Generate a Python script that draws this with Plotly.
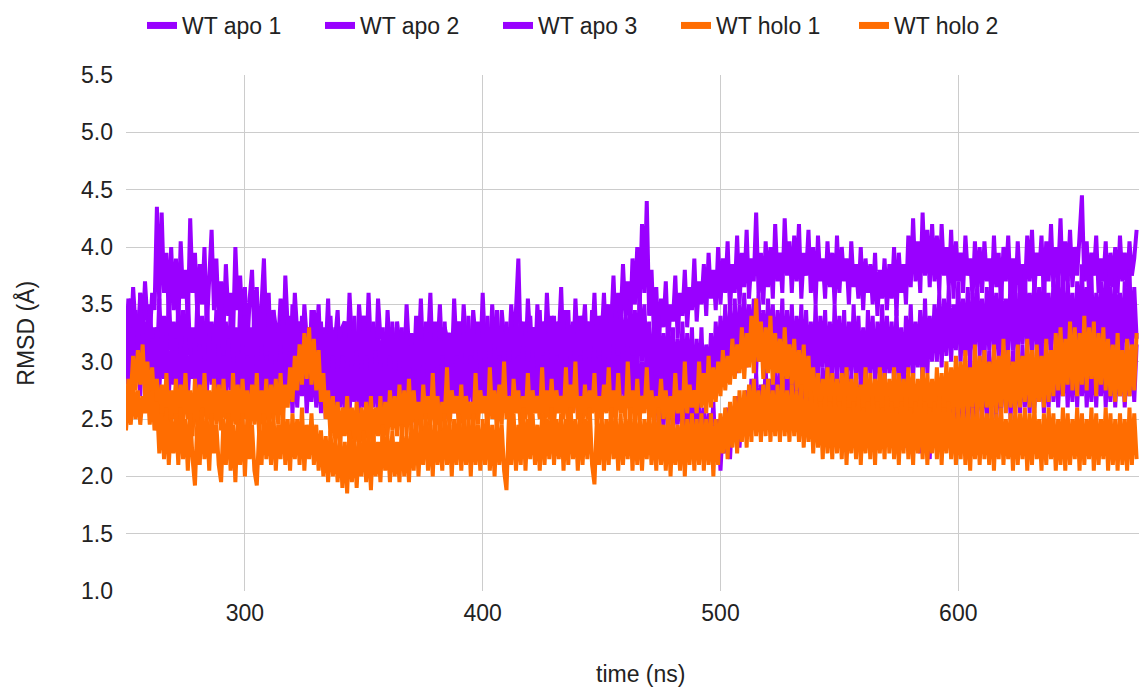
import plotly.graph_objects as go

# Sampling grid (ns), one frame per nanosecond
time_ns = list(range(250, 676))

wt_apo_1 = [
    3.1, 3.55, 3.2, 3.65, 3.3, 3.15, 3.6, 3.25, 3.7, 3.35, 3.2, 3.6, 3.45, 4.35, 3.5, 4.3, 3.6, 3.95, 3.4, 4.0,
    3.45, 3.9, 3.3, 4.05, 3.55, 3.8, 3.35, 4.25, 3.6, 3.95, 3.4, 3.85, 3.5, 4.0, 3.3, 3.75, 4.15, 3.45, 3.9, 3.35,
    3.7, 3.25, 3.85, 3.4, 3.6, 3.2, 4.0, 3.45, 3.75, 3.3, 3.65, 3.1, 3.55, 3.8, 3.2, 3.65, 3.05, 3.5, 3.9, 3.25,
    3.6, 3.0, 3.45, 3.3, 3.15, 3.55, 3.0, 3.75, 3.3, 3.4, 3.05, 3.6, 3.25, 3.35, 2.95, 3.5, 3.2, 3.3, 3.0, 3.45,
    3.15, 3.5, 2.95, 3.3, 3.1, 3.55, 2.9, 3.25, 3.2, 3.45, 2.95, 3.3, 3.35, 3.0, 3.6, 3.15, 3.25, 2.9, 3.5, 3.2,
    3.4, 3.0, 3.6, 3.1, 3.3, 2.95, 3.55, 3.2, 3.25, 2.9, 3.45, 3.05, 3.3, 2.85, 3.35, 3.15, 3.25, 2.95, 3.5, 3.1,
    3.25, 2.85, 3.4, 3.05, 3.55, 3.0, 3.3, 3.15, 3.6, 2.95, 3.35, 3.1, 3.5, 3.0, 3.3, 3.2, 3.25, 2.95, 3.55, 3.1,
    3.35, 3.0, 3.5, 3.15, 3.25, 2.95, 3.45, 3.2, 3.3, 3.0, 3.6, 3.1, 3.3, 3.0, 3.5, 3.15, 3.3, 2.95, 3.45, 3.2,
    3.3, 3.05, 3.5, 3.2, 3.45, 3.9, 3.1, 3.35, 3.0, 3.55, 3.2, 3.3, 2.95, 3.5, 3.1, 3.35, 3.0, 3.6, 3.15, 3.4,
    3.05, 3.35, 3.2, 3.65, 3.0, 3.45, 3.15, 3.3, 2.95, 3.55, 3.1, 3.4, 3.2, 3.5, 3.0, 3.35, 3.15, 3.6, 3.05, 3.4,
    3.2, 3.6, 3.1, 3.5, 3.3, 3.75, 3.2, 3.6, 3.35, 3.85, 3.4, 3.7, 3.3, 3.9, 3.5, 4.0, 3.45, 4.2, 3.6, 4.4,
    3.4, 3.8, 3.25, 3.65, 3.1, 3.55, 3.3, 3.7, 3.15, 3.5, 3.35, 3.75, 3.2, 3.6, 3.4, 3.8, 3.3, 3.65, 3.45, 3.9,
    3.35, 3.7, 3.5, 3.85, 3.4, 3.95, 3.55, 3.8, 3.45, 4.0, 3.5, 3.9, 3.6, 4.05, 3.45, 3.85, 3.6, 4.1, 3.5, 3.95,
    3.65, 4.15, 3.55, 3.9, 3.7, 4.3, 3.6, 3.95, 3.5, 4.05, 3.65, 4.0, 3.55, 4.2, 3.7, 3.95, 3.6, 4.25, 3.75, 4.05,
    3.6, 4.1, 3.7, 4.2, 3.55, 3.95, 3.75, 4.15, 3.6, 4.0, 3.5, 4.1, 3.7, 3.9, 3.55, 4.05, 3.65, 3.95, 3.5, 4.1,
    3.6, 4.0, 3.7, 3.9, 3.5, 4.05, 3.65, 3.85, 3.55, 4.0, 3.45, 3.9, 3.6, 3.85, 3.5, 3.95, 3.4, 3.8, 3.55, 3.9,
    3.45, 3.85, 3.55, 4.0, 3.4, 3.95, 3.6, 3.85, 3.5, 4.1, 3.65, 4.25, 3.7, 4.05, 3.6, 4.3, 3.75, 4.15, 3.65, 4.2,
    3.7, 4.1, 3.6, 4.2, 3.75, 4.0, 3.65, 4.15, 3.55, 4.05, 3.7, 3.95, 3.6, 4.1, 3.75, 3.9, 3.55, 4.05, 3.65, 4.0,
    3.6, 4.05, 3.7, 3.9, 3.55, 4.1, 3.65, 3.95, 3.5, 4.0, 3.7, 4.1, 3.6, 3.9, 3.55, 4.05, 3.65, 3.85, 3.6, 4.1,
    3.7, 4.15, 3.6, 3.95, 3.75, 4.1, 3.55, 4.05, 3.7, 4.2, 3.65, 4.0, 3.75, 4.25, 3.6, 4.05, 3.7, 4.15, 3.65, 4.0,
    3.75, 4.1, 4.45, 3.7, 4.05, 3.6, 3.95, 3.75, 4.1, 3.6, 3.9, 3.7, 4.05, 3.55, 3.95, 3.65, 4.0, 3.6, 4.1, 3.7,
    3.95, 3.65, 4.05, 3.75, 3.9, 4.15,
]

wt_apo_2 = [
    3.4, 2.9, 3.55, 3.05, 3.45, 2.85, 3.6, 3.0, 3.35, 2.9, 3.5, 3.1, 3.3, 2.95, 3.55, 3.05, 3.4, 2.85, 3.6, 3.1,
    3.35, 2.9, 3.5, 3.0, 3.45, 2.85, 3.6, 3.05, 3.3, 2.9, 3.55, 3.0, 3.4, 2.85, 3.5, 3.1, 3.35, 2.95, 3.45, 2.9,
    3.5, 3.0, 3.35, 2.85, 3.45, 2.95, 3.3, 2.8, 3.5, 3.0, 3.4, 2.8, 3.3, 2.95, 3.45, 2.75, 3.35, 2.9, 3.5, 2.85,
    3.3, 2.8, 3.45, 2.95, 3.25, 2.75, 3.4, 2.9, 3.35, 2.8, 3.5, 2.95, 3.3, 2.75, 3.4, 2.85, 3.25, 2.8, 3.45, 2.9,
    3.2, 2.75, 3.35, 2.85, 3.25, 2.7, 3.4, 2.9, 3.3, 2.75, 3.2, 2.85, 3.35, 2.7, 3.25, 2.9, 3.4, 2.75, 3.3, 2.85,
    3.4, 2.8, 3.25, 2.9, 3.35, 2.75, 3.2, 2.85, 3.3, 2.7, 3.25, 2.8, 3.35, 2.75, 3.2, 2.85, 3.3, 2.7, 3.25, 2.8,
    3.15, 2.7, 3.3, 2.8, 3.2, 2.65, 3.35, 2.85, 3.25, 2.75, 3.3, 2.8, 3.2, 2.7, 3.35, 2.85, 3.25, 2.75, 3.3, 2.8,
    3.35, 2.85, 3.25, 2.75, 3.4, 2.9, 3.3, 2.8, 3.35, 2.85, 3.25, 2.75, 3.4, 2.9, 3.3, 2.8, 3.45, 2.85, 3.3, 2.75,
    3.35, 2.85, 3.3, 2.9, 3.45, 2.8, 3.35, 2.85, 3.25, 2.75, 3.4, 2.9, 3.3, 2.8, 3.45, 2.85, 3.35, 2.75, 3.3, 2.9,
    3.4, 2.8, 3.35, 2.85, 3.3, 2.75, 3.45, 2.9, 3.35, 2.8, 3.3, 2.85, 3.4, 2.75, 3.35, 2.9, 3.45, 2.8, 3.3, 2.85,
    3.4, 2.9, 3.5, 2.85, 3.35, 2.95, 3.45, 2.8, 3.5, 2.9, 3.4, 2.85, 3.55, 2.95, 3.45, 2.9, 3.6, 3.0, 3.5, 2.9,
    3.35, 2.8, 3.3, 2.75, 3.4, 2.7, 3.25, 2.8, 3.35, 2.65, 3.3, 2.75, 3.2, 2.7, 3.35, 2.65, 3.25, 2.75, 3.3, 2.6,
    3.2, 2.7, 3.3, 2.65, 3.15, 2.75, 3.25, 2.8, 3.35, 2.9, 3.4, 2.85, 3.5, 2.95, 3.45, 3.0, 3.55, 2.9, 3.5, 3.05,
    3.6, 2.95, 3.5, 3.05, 3.55, 2.9, 3.6, 3.0, 3.45, 2.95, 3.55, 3.05, 3.5, 2.9, 3.45, 3.0, 3.55, 2.85, 3.45, 2.95,
    3.5, 2.85, 3.4, 2.95, 3.5, 2.8, 3.45, 2.9, 3.35, 2.85, 3.5, 2.8, 3.4, 2.95, 3.45, 2.85, 3.35, 2.8, 3.5, 2.9,
    3.4, 2.85, 3.45, 2.8, 3.35, 2.9, 3.5, 2.8, 3.4, 2.85, 3.3, 2.75, 3.45, 2.9, 3.4, 2.8, 3.35, 2.85, 3.5, 2.8,
    3.4, 2.9, 3.35, 2.8, 3.45, 2.85, 3.3, 2.75, 3.4, 2.9, 3.5, 2.85, 3.35, 2.95, 3.45, 2.8, 3.55, 2.9, 3.4, 3.0,
    3.5, 3.0, 3.6, 2.95, 3.55, 3.05, 3.65, 3.0, 3.5, 3.1, 3.7, 3.0, 3.55, 3.05, 3.65, 2.95, 3.6, 3.1, 3.7, 3.05,
    3.55, 3.0, 3.65, 3.1, 3.75, 3.05, 3.6, 3.0, 3.7, 3.1, 3.55, 3.05, 3.75, 3.1, 3.6, 3.0, 3.7, 3.15, 3.8, 3.05,
    3.6, 3.1, 3.75, 3.05, 3.65, 3.0, 3.8, 3.1, 3.6, 3.05, 3.7, 3.15, 3.85, 3.1, 3.65, 3.05, 3.75, 3.1, 3.6, 3.0,
    3.7, 3.1, 3.85, 3.05, 3.65, 3.15, 3.75, 3.0, 3.6, 3.1, 3.7, 3.05, 3.8, 3.1, 3.65, 3.0, 3.75, 3.1, 3.6, 3.05,
    3.7, 3.1, 3.8, 3.05, 3.65, 3.2,
]

wt_apo_3 = [
    2.8, 3.2, 2.75, 3.3, 2.85, 3.15, 2.7, 3.25, 2.9, 3.1, 2.7, 3.2, 2.8, 3.3, 2.75, 3.15, 2.85, 3.25, 2.7, 3.1,
    2.8, 3.2, 2.65, 3.1, 2.75, 3.25, 2.7, 3.05, 2.85, 3.2, 2.65, 3.15, 2.75, 3.0, 2.7, 3.25, 2.8, 3.1, 2.65, 3.15,
    2.7, 3.05, 2.65, 3.2, 2.75, 3.0, 2.6, 3.1, 2.7, 3.15, 2.6, 3.05, 2.7, 3.1, 2.55, 3.0, 2.65, 3.15, 2.6, 3.05,
    2.65, 3.1, 2.55, 3.0, 2.7, 3.15, 2.6, 2.95, 2.65, 3.1, 2.55, 3.05, 2.6, 3.0, 2.7, 3.1, 2.55, 2.95, 2.65, 3.05,
    2.6, 3.0, 2.55, 3.1, 2.5, 2.95, 2.65, 3.05, 2.55, 2.9, 2.6, 3.05, 2.5, 3.0, 2.55, 2.95, 2.65, 3.1, 2.5, 2.95,
    2.6, 3.05, 2.55, 2.95, 2.6, 3.1, 2.5, 3.0, 2.6, 2.9, 2.55, 3.05, 2.6, 2.95, 2.5, 3.0, 2.55, 2.9, 2.45, 2.95,
    2.5, 2.85, 2.4, 2.95, 2.45, 3.0, 2.5, 2.9, 2.55, 3.0, 2.45, 2.95, 2.55, 3.05, 2.5, 2.9, 2.6, 3.0, 2.55, 3.05,
    2.6, 3.1, 2.55, 3.0, 2.65, 3.05, 2.6, 3.1, 2.55, 2.95, 2.65, 3.1, 2.6, 3.0, 2.7, 3.15, 2.6, 3.05, 2.65, 3.1,
    2.6, 3.0, 2.7, 3.1, 2.6, 3.05, 2.65, 3.15, 2.55, 3.0, 2.65, 3.1, 2.6, 2.95, 2.7, 3.05, 2.6, 3.1, 2.65, 3.0,
    2.55, 3.05, 2.65, 3.1, 2.6, 2.95, 2.7, 3.1, 2.6, 3.0, 2.55, 3.05, 2.65, 3.1, 2.6, 3.0, 2.7, 3.15, 2.6, 3.05,
    2.65, 3.1, 2.6, 3.0, 2.7, 3.15, 2.65, 3.05, 2.7, 3.1, 2.6, 3.15, 2.7, 3.05, 2.65, 3.1, 2.6, 3.0, 2.7, 3.1,
    2.55, 2.95, 2.5, 2.9, 2.45, 2.95, 2.4, 2.85, 2.5, 2.9, 2.35, 2.8, 2.45, 2.9, 2.35, 2.75, 2.4, 2.8, 2.3, 2.7,
    2.3, 2.65, 2.25, 2.6, 2.2, 2.55, 2.3, 2.65, 2.15, 2.5, 2.05, 2.45, 2.2, 2.6, 2.15, 2.55, 2.3, 2.7, 2.25, 2.6,
    2.4, 2.75, 2.35, 2.85, 2.45, 2.9, 2.4, 2.8, 2.5, 2.95, 2.45, 2.85, 2.55, 3.0, 2.45, 2.9, 2.5, 3.05, 2.45, 2.95,
    2.5, 3.0, 2.45, 2.9, 2.55, 3.05, 2.5, 2.95, 2.45, 3.0, 2.5, 2.9, 2.4, 2.95, 2.5, 3.05, 2.45, 2.9, 2.4, 2.95,
    2.45, 2.85, 2.4, 2.95, 2.5, 2.9, 2.4, 2.8, 2.45, 2.9, 2.35, 2.85, 2.4, 2.8, 2.3, 2.85, 2.4, 2.75, 2.3, 2.8,
    2.35, 2.75, 2.3, 2.85, 2.25, 2.7, 2.35, 2.8, 2.25, 2.75, 2.2, 2.7, 2.3, 2.8, 2.2, 2.65, 2.25, 2.75, 2.15, 2.7,
    2.3, 2.75, 2.25, 2.8, 2.35, 2.85, 2.4, 2.9, 2.35, 2.85, 2.45, 2.95, 2.4, 2.9, 2.5, 3.0, 2.45, 2.95, 2.5, 3.05,
    2.55, 3.0, 2.5, 3.1, 2.6, 3.05, 2.5, 3.0, 2.55, 3.15, 2.6, 3.05, 2.5, 3.1, 2.6, 3.0, 2.55, 3.15, 2.6, 3.05,
    2.55, 3.1, 2.6, 3.0, 2.65, 3.15, 2.55, 3.05, 2.6, 3.2, 2.65, 3.1, 2.6, 3.05, 2.7, 3.15, 2.6, 3.1, 2.65, 3.2,
    2.6, 3.1, 2.7, 3.15, 2.6, 3.05, 2.65, 3.2, 2.6, 3.1, 2.7, 3.15, 2.6, 3.05, 2.65, 3.2, 2.6, 3.1, 2.7, 3.15,
    2.6, 3.05, 2.7, 3.1, 2.65, 3.15,
]

wt_holo_1 = [
    2.45, 2.85, 2.7, 3.05, 2.75, 3.1, 2.8, 3.15, 2.7, 3.0, 2.65, 2.95, 2.6, 2.85, 2.45, 2.8, 2.5, 2.9, 2.4, 2.75,
    2.5, 2.85, 2.4, 2.8, 2.45, 2.9, 2.5, 2.75, 2.35, 2.85, 2.45, 2.8, 2.4, 2.9, 2.5, 2.75, 2.4, 2.85, 2.45, 2.8,
    2.4, 2.85, 2.5, 2.75, 2.35, 2.9, 2.45, 2.8, 2.4, 2.85, 2.5, 2.75, 2.4, 2.8, 2.45, 2.9, 2.35, 2.75, 2.45, 2.85,
    2.4, 2.8, 2.5, 2.85, 2.45, 2.9, 2.5, 2.8, 2.6, 2.95, 2.65, 3.05, 2.75, 3.15, 2.8, 3.25, 2.85, 3.3, 2.8, 3.2,
    2.75, 3.1, 2.65, 2.9, 2.5, 2.75, 2.35, 2.7, 2.3, 2.65, 2.25, 2.6, 2.35, 2.7, 2.25, 2.6, 2.3, 2.65, 2.2, 2.6,
    2.3, 2.65, 2.25, 2.7, 2.3, 2.6, 2.35, 2.7, 2.25, 2.65, 2.35, 2.75, 2.4, 2.7, 2.35, 2.8, 2.4, 2.75, 2.35, 2.85,
    2.4, 2.75, 2.45, 2.65, 2.35, 2.8, 2.5, 2.7, 2.4, 2.9, 2.45, 2.7, 2.35, 2.65, 2.5, 2.95, 2.4, 2.75, 2.55, 2.7,
    2.45, 2.8, 2.35, 2.7, 2.5, 2.65, 2.4, 2.9, 2.45, 2.75, 2.55, 2.7, 2.4, 2.95, 2.5, 2.75, 2.4, 2.8, 2.45, 3.0,
    2.5, 2.7, 2.4, 2.85, 2.55, 2.75, 2.4, 2.7, 2.5, 2.9, 2.45, 2.75, 2.55, 2.7, 2.5, 2.95, 2.45, 2.75, 2.5, 2.85,
    2.45, 2.75, 2.55, 2.7, 2.5, 2.95, 2.45, 2.8, 2.55, 3.0, 2.5, 2.7, 2.45, 2.8, 2.5, 2.75, 2.55, 2.9, 2.45, 2.7,
    2.5, 2.8, 2.55, 2.95, 2.45, 2.75, 2.5, 2.9, 2.55, 2.7, 2.5, 3.0, 2.55, 2.75, 2.45, 2.85, 2.5, 2.7, 2.55, 2.95,
    2.5, 2.75, 2.45, 2.7, 2.55, 2.85, 2.5, 2.75, 2.45, 2.7, 2.5, 2.9, 2.55, 2.75, 2.5, 3.0, 2.55, 2.8, 2.6, 2.75,
    2.55, 3.0, 2.6, 2.9, 2.55, 3.05, 2.6, 2.95, 2.65, 3.0, 2.7, 3.1, 2.75, 3.05, 2.8, 3.2, 2.85, 3.15, 2.9, 3.3,
    2.85, 3.25, 2.95, 3.4, 2.9, 3.55, 3.0, 3.35, 2.85, 3.3, 2.9, 3.4, 2.8, 3.25, 2.9, 3.2, 2.75, 3.3, 2.85, 3.15,
    2.8, 3.2, 2.75, 3.1, 2.7, 3.15, 2.65, 3.05, 2.6, 2.95, 2.5, 2.9, 2.45, 2.85, 2.55, 2.95, 2.45, 2.9, 2.5, 2.85,
    2.45, 2.9, 2.5, 2.95, 2.4, 2.85, 2.5, 2.9, 2.45, 2.8, 2.5, 2.95, 2.4, 2.9, 2.45, 2.85, 2.5, 2.95, 2.45, 2.9,
    2.5, 2.85, 2.45, 2.95, 2.4, 2.9, 2.5, 2.85, 2.45, 2.95, 2.5, 2.9, 2.4, 2.85, 2.5, 2.95, 2.45, 2.9, 2.5, 2.85,
    2.45, 2.95, 2.5, 2.9, 2.45, 3.0, 2.5, 2.95, 2.55, 3.05, 2.5, 3.0, 2.55, 3.1, 2.5, 2.95, 2.6, 3.15, 2.5, 3.05,
    2.55, 3.1, 2.6, 3.0, 2.5, 3.15, 2.55, 3.05, 2.6, 3.2, 2.55, 3.1, 2.6, 3.0, 2.55, 3.15, 2.6, 3.05, 2.65, 3.2,
    2.6, 3.1, 2.55, 3.15, 2.65, 3.05, 2.6, 3.2, 2.65, 3.1, 2.7, 3.25, 2.75, 3.3, 2.7, 3.2, 2.8, 3.35, 2.75, 3.3,
    2.7, 3.25, 2.8, 3.4, 2.75, 3.3, 2.85, 3.35, 2.7, 3.25, 2.8, 3.3, 2.75, 3.2, 2.7, 3.15, 2.65, 3.25, 2.7, 3.1,
    2.65, 3.2, 2.7, 3.15, 2.75, 3.25,
]

wt_holo_2 = [
    2.4, 2.7, 2.45, 2.8, 2.5, 2.75, 2.45, 2.7, 2.55, 2.8, 2.45, 2.75, 2.4, 2.65, 2.2, 2.55, 2.15, 2.6, 2.1, 2.5,
    2.2, 2.55, 2.1, 2.6, 2.15, 2.5, 2.05, 2.55, 2.15, 1.92, 2.5, 2.1, 2.6, 2.15, 2.5, 2.05, 2.55, 2.2, 2.45, 2.1,
    1.95, 2.5, 2.1, 2.55, 2.05, 2.45, 1.95, 2.5, 2.1, 2.55, 2.0, 2.5, 2.15, 2.45, 2.05, 1.92, 2.4, 2.1, 2.55, 2.15,
    2.5, 2.1, 2.55, 2.05, 2.45, 2.15, 2.6, 2.1, 2.5, 2.05, 2.55, 2.15, 2.5, 2.1, 2.6, 2.05, 2.45, 2.15, 2.55, 2.1,
    2.45, 2.05, 2.4, 2.0, 2.35, 1.95, 2.4, 2.0, 2.3, 1.95, 2.35, 1.9, 2.3, 1.85, 2.4, 1.95, 2.35, 1.9, 2.3, 2.0,
    2.4, 1.95, 2.35, 1.88, 2.4, 2.0, 2.3, 1.95, 2.45, 2.05, 2.35, 1.95, 2.4, 2.0, 2.3, 1.95, 2.45, 2.0, 2.35, 1.95,
    2.45, 2.05, 2.5, 2.0, 2.4, 2.1, 2.55, 2.05, 2.45, 2.0, 2.5, 2.1, 2.4, 2.05, 2.55, 2.1, 2.45, 2.0, 2.5, 2.1,
    2.55, 2.05, 2.45, 2.1, 2.5, 2.0, 2.55, 2.1, 2.45, 2.05, 2.5, 2.1, 2.55, 2.05, 2.45, 2.0, 2.5, 2.1, 2.45, 2.05,
    1.88, 2.5, 2.1, 2.55, 2.05, 2.45, 2.1, 2.6, 2.05, 2.5, 2.15, 2.55, 2.1, 2.45, 2.05, 2.55, 2.1, 2.5, 2.15, 2.6,
    2.1, 2.5, 2.15, 2.55, 2.05, 2.5, 2.1, 2.6, 2.15, 2.5, 2.05, 2.55, 2.1, 2.5, 2.15, 2.6, 2.1, 1.93, 2.5, 2.1,
    2.55, 2.05, 2.5, 2.1, 2.6, 2.15, 2.5, 2.05, 2.55, 2.1, 2.5, 2.15, 2.6, 2.05, 2.5, 2.1, 2.55, 2.05, 2.5, 2.15,
    2.55, 2.1, 2.5, 2.05, 2.6, 2.1, 2.45, 2.05, 2.55, 2.0, 2.5, 2.1, 2.45, 2.05, 2.55, 2.0, 2.5, 2.1, 2.55, 2.05,
    2.5, 2.1, 2.55, 2.05, 2.5, 2.1, 2.55, 2.0, 2.5, 2.1, 2.55, 2.2, 2.6, 2.15, 2.65, 2.25, 2.7, 2.2, 2.75, 2.3,
    2.75, 2.25, 2.8, 2.3, 2.85, 2.35, 2.75, 2.3, 2.8, 2.35, 2.85, 2.3, 2.75, 2.35, 2.8, 2.3, 2.85, 2.35, 2.75, 2.3,
    2.8, 2.35, 2.75, 2.3, 2.8, 2.25, 2.7, 2.3, 2.75, 2.2, 2.7, 2.25, 2.65, 2.15, 2.7, 2.2, 2.65, 2.15, 2.7, 2.2,
    2.65, 2.15, 2.7, 2.1, 2.6, 2.2, 2.65, 2.15, 2.7, 2.1, 2.6, 2.2, 2.65, 2.15, 2.7, 2.1, 2.65, 2.2, 2.6, 2.15,
    2.7, 2.2, 2.65, 2.15, 2.6, 2.1, 2.65, 2.2, 2.7, 2.15, 2.6, 2.1, 2.65, 2.2, 2.7, 2.15, 2.65, 2.1, 2.6, 2.2,
    2.65, 2.15, 2.7, 2.1, 2.6, 2.2, 2.65, 2.15, 2.6, 2.1, 2.55, 2.15, 2.6, 2.1, 2.55, 2.05, 2.6, 2.15, 2.55, 2.1,
    2.6, 2.15, 2.55, 2.1, 2.6, 2.05, 2.55, 2.15, 2.6, 2.1, 2.5, 2.15, 2.55, 2.05, 2.6, 2.1, 2.55, 2.15, 2.6, 2.05,
    2.55, 2.1, 2.6, 2.15, 2.5, 2.05, 2.55, 2.1, 2.6, 2.15, 2.55, 2.05, 2.5, 2.1, 2.6, 2.05, 2.55, 2.1, 2.5, 2.15,
    2.6, 2.05, 2.55, 2.1, 2.5, 2.15, 2.6, 2.05, 2.55, 2.1, 2.5, 2.15, 2.6, 2.05, 2.55, 2.1, 2.5, 2.05, 2.55, 2.1,
    2.5, 2.05, 2.6, 2.1, 2.55, 2.15,
]

series_names = ["WT apo 1", "WT apo 2", "WT apo 3", "WT holo 1", "WT holo 2"]
series_values = [wt_apo_1, wt_apo_2, wt_apo_3, wt_holo_1, wt_holo_2]

APO_COLOR = "#9900ff"
HOLO_COLOR = "#ff6d01"
series_colors = [APO_COLOR, APO_COLOR, APO_COLOR, HOLO_COLOR, HOLO_COLOR]

FONT = "Liberation Sans, Arial, sans-serif"
TEXT_COLOR = "#222222"
FONT_SIZE = 23

fig = go.Figure()

# Trajectory lines (apo first, holo drawn on top)
for name, values, color in zip(series_names, series_values, series_colors):
    fig.add_trace(go.Scatter(
        x=time_ns[:len(values)], y=values, mode="lines", name=name,
        legendgroup=name, showlegend=False,
        line=dict(color=color, width=4),
    ))

# Thick swatches for the legend entries
for name, color in zip(series_names, series_colors):
    fig.add_trace(go.Scatter(
        x=[None], y=[None], mode="lines", name=name,
        legendgroup=name, showlegend=True,
        line=dict(color=color, width=7),
    ))

fig.update_layout(
    width=1139, height=687,
    margin=dict(l=126, r=0, t=75, b=96),
    paper_bgcolor="white", plot_bgcolor="white",
    font=dict(family=FONT, size=FONT_SIZE, color=TEXT_COLOR),
    showlegend=True,
    legend=dict(
        orientation="h",
        xref="container", x=142 / 1139, xanchor="left",
        yref="container", y=1 - 4 / 687, yanchor="top",
        itemwidth=30,
        entrywidth=133, entrywidthmode="pixels",
        font=dict(family=FONT, size=FONT_SIZE, color=TEXT_COLOR),
    ),
    xaxis=dict(
        range=[250, 676], tickvals=[300, 400, 500, 600],
        showgrid=True, gridcolor="#cccccc", gridwidth=1,
        zeroline=False, showline=False, ticks="",
        ticklabelstandoff=6,
        tickfont=dict(family=FONT, size=FONT_SIZE, color=TEXT_COLOR),
    ),
    yaxis=dict(
        range=[1.0, 5.5], dtick=0.5, tick0=1.0, tickformat=".1f",
        showgrid=True, gridcolor="#cccccc", gridwidth=1.3,
        zeroline=False, showline=False, ticks="",
        ticklabelstandoff=12,
        tickfont=dict(family=FONT, size=FONT_SIZE, color=TEXT_COLOR),
    ),
    annotations=[
        dict(text="time (ns)", xref="paper", yref="paper",
             x=0.508, y=-0.161, xanchor="center", yanchor="middle",
             showarrow=False, font=dict(family=FONT, size=FONT_SIZE, color=TEXT_COLOR)),
        dict(text="RMSD (Å)", xref="paper", yref="paper",
             x=-0.1, y=0.5, xanchor="center", yanchor="middle",
             textangle=-90, showarrow=False,
             font=dict(family=FONT, size=FONT_SIZE, color=TEXT_COLOR)),
    ],
)

fig.write_html("out.html")
